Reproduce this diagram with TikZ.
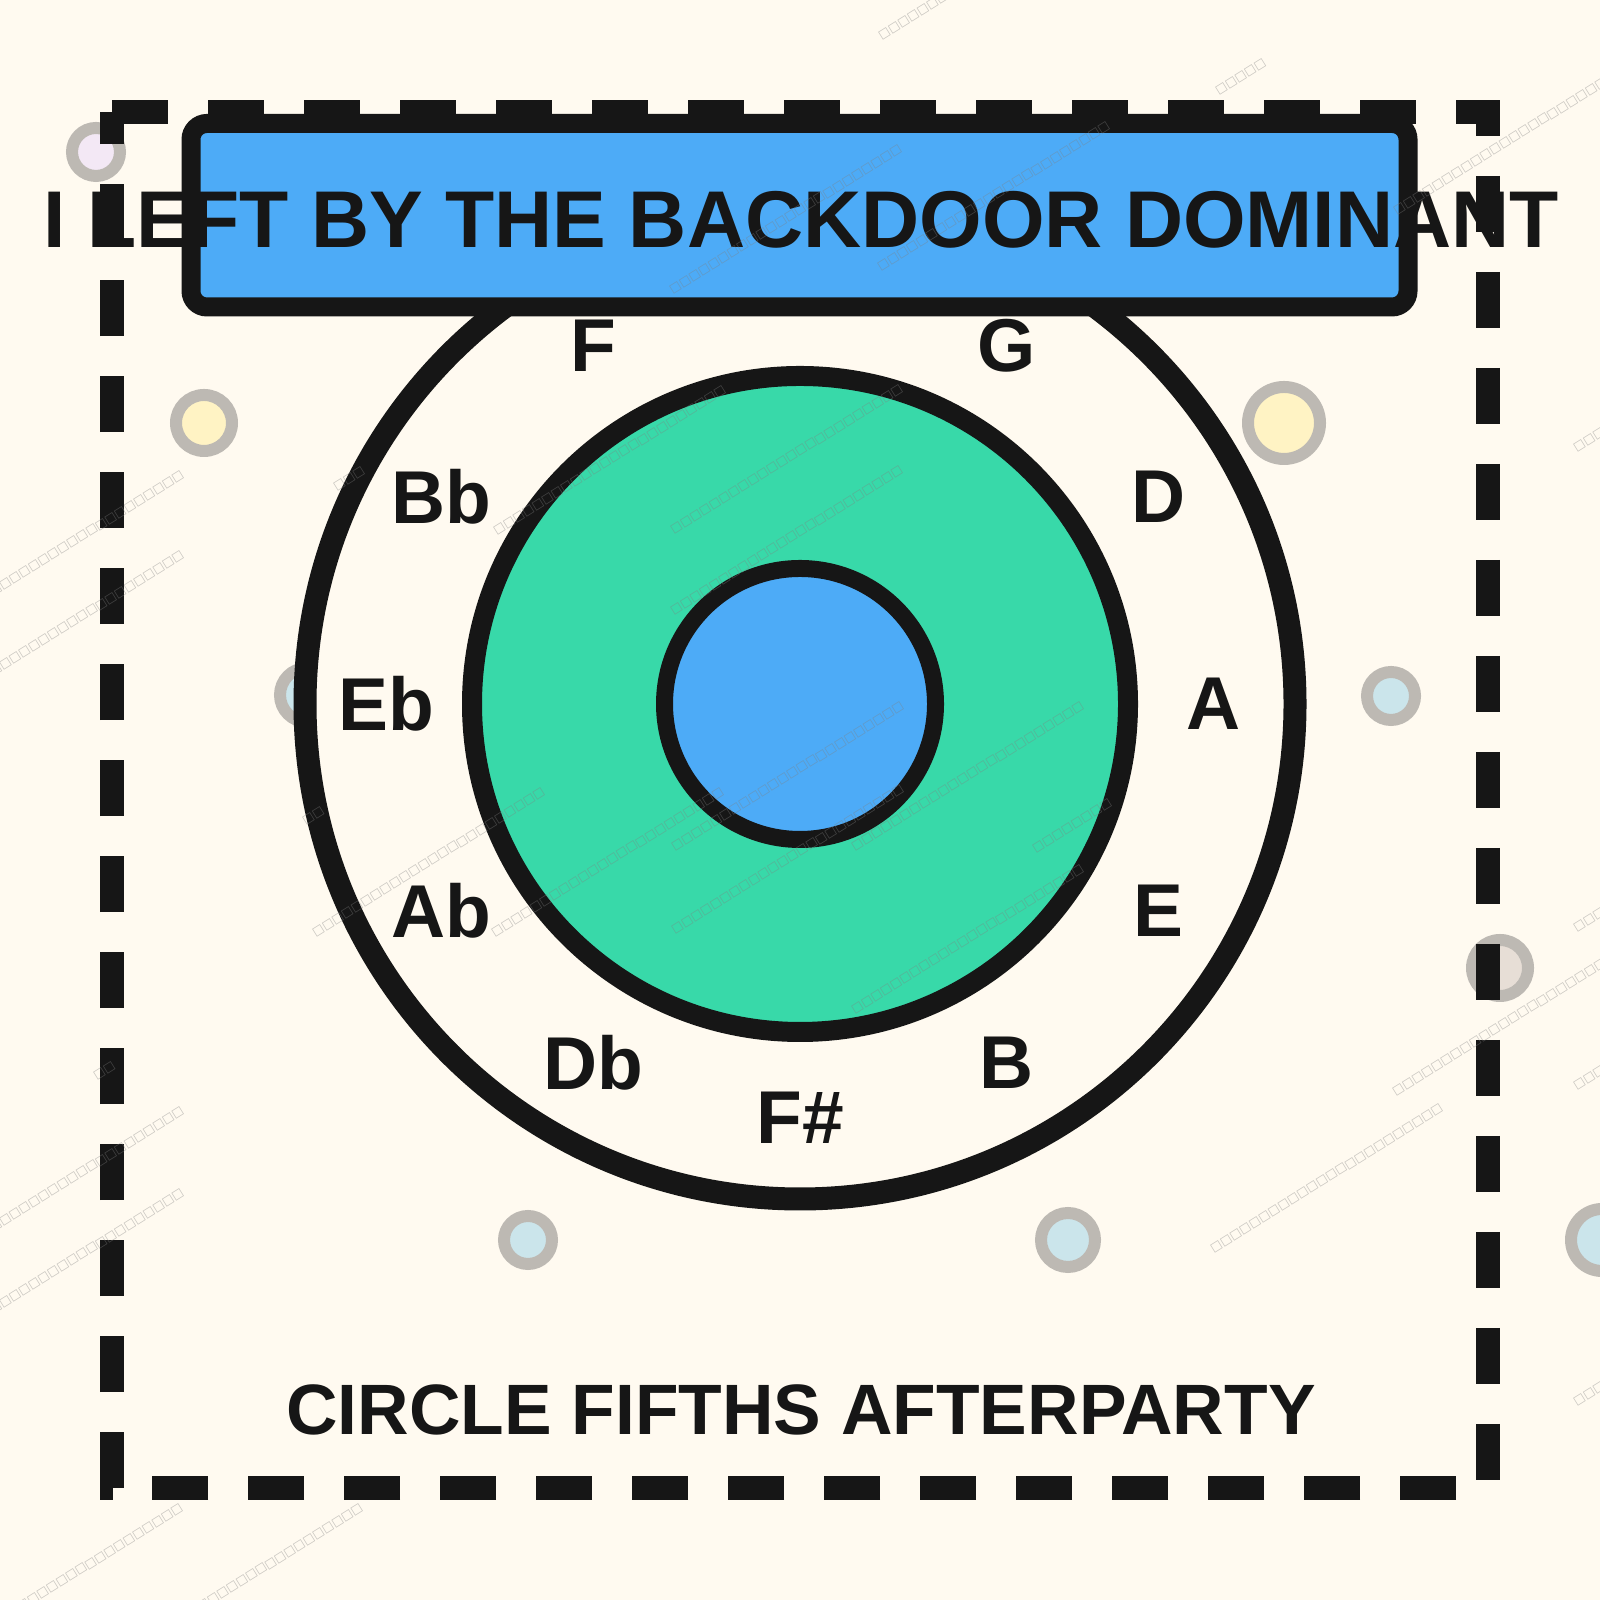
\documentclass[tikz,border=0pt]{standalone}
\usepackage{fontspec}
\setmainfont{Liberation Sans}
\newfontfamily\boxfont{DejaVu Sans}
\usepackage{xcolor}
\usepackage{tikz}

\definecolor{cream}{HTML}{FFFAF0}
\definecolor{ink}{HTML}{161616}
\definecolor{teal4}{HTML}{38D9A9}
\definecolor{blue4}{HTML}{4DABF7}
\definecolor{ringgray}{HTML}{BDB9B3}
\definecolor{dotyellow}{HTML}{FFF3C4}
\definecolor{dotlilac}{HTML}{F3E8F5}
\definecolor{dotblue}{HTML}{CBE5EB}
\definecolor{dotbeige}{HTML}{E7DED6}

% one watermark line, and short pieces of it
\newcommand{\tofuline}{□□□□□□□□□□□□□□□□□□□□□□□□}
\newcommand{\tofuhalf}{□□□□□□□□}
\newcommand{\tofufew}{□□□□□}

\begin{document}
\begin{tikzpicture}[
    dotring/.style={draw=ringgray, circle, line width=0.12cm, inner sep=0pt},
    ring/.style={draw=ink, circle, inner sep=0pt},
    notelabel/.style={text=ink, inner sep=0pt, font=\fontsize{21.3}{25}\selectfont\bfseries},
    wmark/.style={text=gray, opacity=0.45, rotate=32, anchor=south west, inner sep=0pt, font=\boxfont\fontsize{3.4}{4}\selectfont}
]
            % Canvas
            \useasboundingbox (0,0) rectangle (16,16);
            \fill[cream] (0,0) rectangle (16,16);
            \clip (0,0) rectangle (16,16);

            % Dots
            \node[dotring, fill=dotlilac, minimum size=0.48cm] (d1) at (0.96,14.48) {};
            \node[dotring, fill=dotyellow, minimum size=0.56cm] (d2) at (2.04,11.77) {};
            \node[dotring, fill=dotyellow, minimum size=0.72cm] (d3) at (12.84,11.77) {};
            \node[dotring, fill=dotblue, minimum size=0.54cm] (d4) at (3.07,9.05) {};
            \node[dotring, fill=dotblue, minimum size=0.48cm] (d5) at (13.91,9.04) {};
            \node[dotring, fill=dotbeige, minimum size=0.56cm] (d6) at (15.00,6.32) {};
            \node[dotring, fill=dotblue, minimum size=0.48cm] (d7) at (5.28,3.60) {};
            \node[dotring, fill=dotblue, minimum size=0.54cm] (d8) at (10.68,3.60) {};
            \node[dotring, fill=dotblue, minimum size=0.62cm] (d9) at (16.02,3.60) {};

            % Dashed frame
            \draw[ink, line width=0.24cm, dash pattern=on 0.56cm off 0.40cm] (1.12,14.88) -- (14.88,14.88) -- (14.88,1.12) -- (1.12,1.12) -- cycle;

            % Circle of fifths
            \node[ring, fill=cream, line width=0.23cm, minimum size=9.9cm] (outer) at (8,8.96) {};
            \node[ring, fill=teal4, line width=0.20cm, minimum size=6.56cm] (mid) at (8,8.96) {};
            \node[ring, fill=blue4, line width=0.17cm, minimum size=2.71cm] (hub) at (8,8.96) {};

            % Notes
            \foreach \note/\ang in {A/0, D/30, G/60, F/120, Bb/150, Eb/180, Ab/210, Db/240, F\#/270, B/300, E/330}
                \node[notelabel] (note\ang) at ([shift={(\ang:4.14)}]hub.center) {\note};

            % Title
            \node[draw=ink, fill=blue4, line width=0.19cm, rounded corners=0.16cm, minimum width=12.17cm, minimum height=1.835cm, inner sep=0pt] (titlebox) at (7.995,13.8475) {};
            \node[text=ink, inner sep=0pt, font=\fontsize{22.9}{27}\selectfont\bfseries] (title) at (8.01,13.806) {I LEFT BY THE BACKDOOR DOMINANT};

            % Footer
            \node[text=ink, inner sep=0pt, font=\fontsize{20.3}{24}\selectfont\bfseries] (footer) at (8.01,1.90) {CIRCLE FIFTHS AFTERPARTY};

            % Watermark
            \foreach \x/\y/\txt [count=\i] in {8.82/15.58/\tofuline, 12.19/15.03/\tofufew, 13.97/13.83/\tofuline,
                8.81/13.27/\tofuline, 6.73/13.04/\tofuline, -0.45/9.78/\tofuline, -0.45/8.98/\tofuline,
                3.37/11.07/□□□, 4.97/10.63/\tofuline, 6.74/10.64/\tofuline, 6.74/9.83/\tofuline,
                3.06/7.73/□□, 3.16/6.61/\tofuline, 4.95/6.61/\tofuline, 6.75/7.47/\tofuline, 8.55/7.47/\tofuline,
                10.36/7.45/\tofuhalf, 6.75/6.64/\tofuline, 8.55/5.84/\tofuline, -0.45/3.42/\tofuline,
                -0.45/2.60/\tofuline, -0.46/-0.55/\tofuline, 1.34/-0.55/\tofuline, 13.96/5.02/\tofuline,
                12.14/3.45/\tofuline, 15.77/11.46/\tofufew, 15.77/6.66/\tofufew, 15.77/5.08/\tofufew,
                15.77/1.92/\tofufew, 0.97/5.18/□□}
                \node[wmark] (wm\i) at (\x,\y) {\txt};
\end{tikzpicture}
\end{document}
